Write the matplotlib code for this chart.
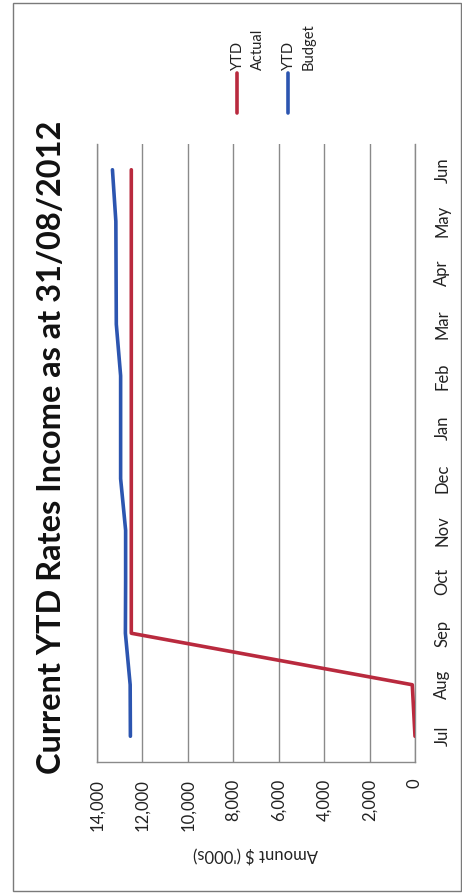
import matplotlib
matplotlib.use("Agg")
import matplotlib.pyplot as plt
from matplotlib.lines import Line2D
from matplotlib.patches import Rectangle
from matplotlib.ticker import FuncFormatter

plt.rcParams["font.family"] = ["Lato", "DejaVu Sans"]

months = ["Jul", "Aug", "Sep", "Oct", "Nov", "Dec", "Jan", "Feb", "Mar", "Apr", "May", "Jun"]
ytd_actual = [0, 120, 12490, 12490, 12490, 12490, 12490, 12490, 12490, 12490, 12490, 12490]
ytd_budget = [12530, 12540, 12750, 12740, 12740, 12960, 12960, 12960, 13150, 13160, 13170, 13320]
amount_ticks = [0, 2000, 4000, 6000, 8000, 10000, 12000, 14000]

red = "#b92a3e"
blue = "#2c55b0"
grid_c = "#8a8a8a"

fig = plt.figure(figsize=(4.62, 8.94), dpi=100)
W, H = 462, 894

# page frame
fig.add_artist(Rectangle((13 / W, 1 - 891 / H), (461 - 13) / W, (891 - 3) / H,
                         transform=fig.transFigure, fill=False, ec="#7a7a7a", lw=1.0))

# chart is laid out turned on its side: amount runs right-to-left, months bottom-to-top
ax = fig.add_axes([97 / W, 1 - 762 / H, (415 - 97) / W, (762 - 144) / H])
pos = list(range(len(months)))
ax.plot(ytd_actual, pos, color=red, lw=2.6, solid_capstyle="round", zorder=3)
ax.plot(ytd_budget, pos, color=blue, lw=2.6, solid_capstyle="round", zorder=3)

ax.set_xlim(14000, 0)
ax.set_ylim(-0.5, len(months) - 0.5)
ax.set_xticks(amount_ticks)
ax.xaxis.set_major_formatter(FuncFormatter(lambda v, p: f"{int(v):,}"))
ax.set_yticks(pos)
ax.set_yticklabels(months)
ax.yaxis.tick_right()
ax.tick_params(axis="x", length=0, pad=12, labelsize=12, labelrotation=90, colors="#222222")
ax.tick_params(axis="y", length=0, pad=14, labelsize=12, labelrotation=90, colors="#222222")
for lab in ax.get_yticklabels():
    lab.set_verticalalignment("center")
    lab.set_horizontalalignment("left")

ax.grid(axis="x", color=grid_c, lw=1.0)
ax.set_axisbelow(True)
ax.spines["top"].set_visible(False)
for s in ["left", "right", "bottom"]:
    ax.spines[s].set_color(grid_c)
    ax.spines[s].set_linewidth(1.0)

ax.set_xlabel("Amount $ ('000s)", rotation=180, fontsize=12, labelpad=11, color="#222222")

fig.text(52 / W, 1 - 447 / H, "Current YTD Rates Income as at 31/08/2012",
         rotation=90, ha="center", va="center", fontsize=23.4, fontweight="bold", color="#111111")

# legend
for xc, col, label in [(237, red, "YTD\nActual"), (288, blue, "YTD\nBudget")]:
    fig.add_artist(Line2D([xc / W, xc / W], [1 - 113 / H, 1 - 73 / H], color=col, lw=2.6,
                          solid_capstyle="round", transform=fig.transFigure))
    fig.text((xc + 11) / W, 1 - 70 / H, label, rotation=90, ha="center", va="bottom",
             fontsize=10.5, linespacing=1.5, multialignment="left", color="#222222")

fig.savefig("out.png", dpi=100)
